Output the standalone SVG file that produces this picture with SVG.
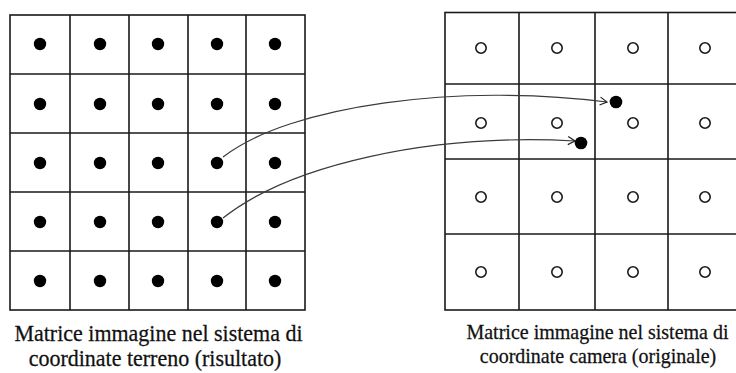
<svg xmlns="http://www.w3.org/2000/svg" width="736" height="373" viewBox="0 0 736 373">
  <style>
    .grid { fill: none; stroke: #1a1a1a; stroke-width: 1.6; }
    .dot { fill: #000; }
    .ring { fill: none; stroke: #1a1a1a; stroke-width: 1.6; }
    .link { fill: none; stroke: #3a3a3a; stroke-width: 1.2; }
    .cap { fill: #111; stroke: #111; stroke-width: 0.25; text-anchor: middle; }
  </style>
  <defs>
    <marker id="chev" markerWidth="10" markerHeight="10" refX="8" refY="5" orient="auto" markerUnits="userSpaceOnUse">
      <path d="M1,1 L8,5 L1,9" fill="none" stroke="#222" stroke-width="1.2"/>
    </marker>
  </defs>
  <rect width="736" height="373" fill="#fff"/>

  <!-- ground-coordinate result matrix: 5x5 cells with filled pixel centres -->
  <g id="ground-matrix">
    <rect class="grid" x="10" y="15" width="295" height="295"/>
    <path class="grid" d="M70,15V310 M129,15V310 M188,15V310 M246,15V310 M10,74H305 M10,133H305 M10,192H305 M10,251H305"/>
    <g class="dot">
      <circle cx="40" cy="44" r="6.2"/><circle cx="100" cy="44" r="6.2"/><circle cx="158" cy="44" r="6.2"/><circle cx="217" cy="44" r="6.2"/><circle cx="275" cy="44" r="6.2"/>
      <circle cx="40" cy="104" r="6.2"/><circle cx="100" cy="104" r="6.2"/><circle cx="158" cy="104" r="6.2"/><circle cx="217" cy="104" r="6.2"/><circle cx="275" cy="104" r="6.2"/>
      <circle cx="40" cy="163" r="6.2"/><circle cx="100" cy="163" r="6.2"/><circle cx="158" cy="163" r="6.2"/><circle cx="217" cy="163" r="6.2"/><circle cx="275" cy="163" r="6.2"/>
      <circle cx="40" cy="222" r="6.2"/><circle cx="100" cy="222" r="6.2"/><circle cx="158" cy="222" r="6.2"/><circle cx="217" cy="222" r="6.2"/><circle cx="275" cy="222" r="6.2"/>
      <circle cx="40" cy="281" r="6.2"/><circle cx="100" cy="281" r="6.2"/><circle cx="158" cy="281" r="6.2"/><circle cx="217" cy="281" r="6.2"/><circle cx="275" cy="281" r="6.2"/>
    </g>
    <g font-family="'Liberation Serif', 'DejaVu Serif', serif" font-size="22">
      <text class="cap" transform="translate(158.5,341) scale(1,1.07)">Matrice immagine nel sistema di</text>
      <text class="cap" transform="translate(155,366) scale(1,1.07)">coordinate terreno (risultato)</text>
    </g>
  </g>

  <!-- camera-coordinate original matrix: 4x4 cells with open pixel centres -->
  <g id="camera-matrix">
    <rect class="grid" x="445" y="12.5" width="298" height="297.5"/>
    <path class="grid" d="M519,12.5V310 M595,12.5V310 M668,12.5V310 M445,84H743 M445,159H743 M445,234H743"/>
    <g class="ring">
      <circle cx="481" cy="48" r="5.2"/><circle cx="557" cy="48" r="5.2"/><circle cx="633" cy="48" r="5.2"/><circle cx="705" cy="48" r="5.2"/>
      <circle cx="481" cy="123" r="5.2"/><circle cx="557" cy="123" r="5.2"/><circle cx="633" cy="123" r="5.2"/><circle cx="705" cy="123" r="5.2"/>
      <circle cx="481" cy="197" r="5.2"/><circle cx="557" cy="197" r="5.2"/><circle cx="633" cy="197" r="5.2"/><circle cx="705" cy="197" r="5.2"/>
      <circle cx="481" cy="272" r="5.2"/><circle cx="557" cy="272" r="5.2"/><circle cx="633" cy="272" r="5.2"/><circle cx="705" cy="272" r="5.2"/>
    </g>
    <g font-family="'Liberation Serif', 'DejaVu Serif', serif" font-size="20">
      <text class="cap" transform="translate(597.5,339) scale(1,1.07)">Matrice immagine nel sistema di</text>
      <text class="cap" transform="translate(598,363) scale(1,1.07)">coordinate camera (originale)</text>
    </g>
  </g>

  <!-- projected positions in the camera matrix -->
  <g id="projected-points" class="dot">
    <circle cx="616" cy="102" r="6.3"/>
    <circle cx="581" cy="143" r="6.3"/>
  </g>

  <g id="connectors">
    <path class="link" d="M223,157 C290,105 460,83 607,102" marker-end="url(#chev)"/>
    <path class="link" d="M223,218 C290,165 430,133 575,141" marker-end="url(#chev)"/>
  </g>
</svg>
